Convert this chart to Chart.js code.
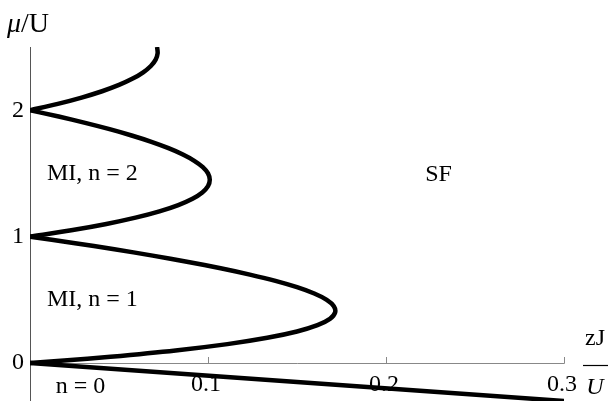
<!DOCTYPE html>
<html><head><meta charset="utf-8">
<script src="https://cdn.jsdelivr.net/npm/chart.js@4.4.1/dist/chart.umd.min.js"></script>
<style>html,body{margin:0;padding:0;background:#fff}#wrap{width:609px;height:401px;position:relative}</style>
</head><body><div id="wrap"><canvas id="c" width="609" height="401"></canvas></div>
<script>
// Phase boundary of the Mott lobes: chemical potential mu/U and hopping zJ/U
const lobe0Mu = [0, -0.3];
const lobe0J  = [0, 0.3];
const lobe1Mu = [0, 0.02, 0.05, 0.1, 0.15, 0.2, 0.25, 0.3, 0.35, 0.4, 0.45, 0.5, 0.55, 0.6, 0.65, 0.7, 0.75, 0.8, 0.85, 0.9, 0.95, 1.0];
const lobe1J  = [0, 0.0192, 0.0452, 0.0818, 0.1109, 0.1333, 0.15, 0.1615, 0.1685, 0.1714, 0.1707, 0.1667, 0.1597, 0.15, 0.1379, 0.1235, 0.1071, 0.0889, 0.0689, 0.0474, 0.0244, 0];
const lobe2Mu = [1.0, 1.05, 1.1, 1.15, 1.2, 1.25, 1.3, 1.35, 1.4, 1.45, 1.5, 1.55, 1.6, 1.65, 1.7, 1.75, 1.8, 1.85, 1.9, 1.95, 2.0];
const lobe2J  = [0, 0.0232, 0.0429, 0.0593, 0.0727, 0.0833, 0.0913, 0.0968, 0.1, 0.101, 0.1, 0.0971, 0.0923, 0.0859, 0.0778, 0.0682, 0.0571, 0.0447, 0.031, 0.0161, 0];
const lobe3Mu = [2.0, 2.05, 2.1, 2.15, 2.2, 2.25, 2.3, 2.35, 2.4, 2.45, 2.5];
const lobe3J  = [0, 0.0156, 0.029, 0.0405, 0.05, 0.0577, 0.0636, 0.0679, 0.0706, 0.0717, 0.0714];

const xTicks = [0.1, 0.2, 0.3];
const xTickLabels = ['0.1', '0.2', '0.3'];
const yTicks = [0, 1, 2];
const yTickLabels = ['0', '1', '2'];

// region labels [text, zJ/U (left edge), mu/U]
const regionLabels = [
  ['MI, n = 2', 0.0095, 1.5],
  ['MI, n = 1', 0.0095, 0.5],
  ['SF', 0.222, 1.49],
  ['n = 0', 0.0145, -0.19]
];

function pts(xs, ys) { return xs.map((x, i) => ({x: x, y: ys[i]})); }
function lineDs(xs, ys) {
  return {data: pts(xs, ys), showLine: true, borderColor: '#000', borderWidth: 4.5,
          pointRadius: 0, tension: 0.3, fill: false, borderJoinStyle: 'round', borderCapStyle: 'butt'};
}

const SERIF = '"Liberation Serif", "Times New Roman", serif';

const axesPlugin = {
  id: 'axesPlugin',
  beforeDatasetsDraw(chart) {
    const ctx = chart.ctx, xs = chart.scales.x, ys = chart.scales.y;
    const x0 = xs.getPixelForValue(0), y0 = ys.getPixelForValue(0);
    ctx.save();
    ctx.strokeStyle = '#555'; ctx.lineWidth = 1;
    ctx.beginPath();
    ctx.moveTo(Math.round(x0) + 0.5, chart.chartArea.top);
    ctx.lineTo(Math.round(x0) + 0.5, chart.chartArea.bottom + 2);
    ctx.stroke();
    ctx.strokeStyle = '#888';
    ctx.beginPath();
    ctx.moveTo(x0, Math.round(y0) + 0.5);
    ctx.lineTo(xs.getPixelForValue(xTicks[xTicks.length - 1]) + 0.5, Math.round(y0) + 0.5);
    ctx.stroke();
    xTicks.forEach(t => {
      const px = Math.round(xs.getPixelForValue(t)) + 0.5;
      ctx.beginPath(); ctx.moveTo(px, Math.round(y0) + 0.5); ctx.lineTo(px, Math.round(y0) - 6); ctx.stroke();
    });
    ctx.restore();
  },
  afterDraw(chart) {
    const ctx = chart.ctx, xs = chart.scales.x, ys = chart.scales.y;
    const x0 = xs.getPixelForValue(0), y0 = ys.getPixelForValue(0);
    ctx.save();
    ctx.fillStyle = '#000';
    ctx.font = '24px ' + SERIF;
    ctx.textBaseline = 'middle';
    ctx.textAlign = 'center';
    xTicks.forEach((t, i) => ctx.fillText(xTickLabels[i], xs.getPixelForValue(t) - 2, y0 + 22));
    ctx.textAlign = 'right';
    yTicks.forEach((t, i) => ctx.fillText(yTickLabels[i], x0 - 6, ys.getPixelForValue(t)));
    ctx.textAlign = 'left';
    regionLabels.forEach(l => ctx.fillText(l[0], xs.getPixelForValue(l[1]), ys.getPixelForValue(l[2])));
    // y axis title mu/U
    ctx.textBaseline = 'alphabetic';
    ctx.font = 'italic 28px ' + SERIF;
    ctx.fillText('\u03BC', 7, 32);
    const w = ctx.measureText('\u03BC').width;
    ctx.font = '28px ' + SERIF;
    ctx.fillText('/U', 7 + w, 32);
    // x axis title zJ / U
    const cx = 595;
    ctx.textAlign = 'center';
    ctx.font = '24px ' + SERIF;
    ctx.fillText('zJ', cx, 345);
    ctx.strokeStyle = '#000'; ctx.lineWidth = 1.2;
    ctx.beginPath(); ctx.moveTo(583, 365.5); ctx.lineTo(608, 365.5); ctx.stroke();
    ctx.font = 'italic 24px ' + SERIF;
    ctx.fillText('U', cx, 394);
    ctx.restore();
  }
};

new Chart(document.getElementById('c'), {
  type: 'scatter',
  data: { datasets: [
    lineDs(lobe0J, lobe0Mu),
    lineDs(lobe1J, lobe1Mu),
    lineDs(lobe2J, lobe2Mu),
    lineDs(lobe3J, lobe3Mu)
  ]},
  options: {
    responsive: false, animation: false, devicePixelRatio: 1,
    layout: { padding: { left: 30, right: 45, top: 47, bottom: 0 } },
    plugins: { legend: { display: false }, tooltip: { enabled: false } },
    scales: {
      x: { type: 'linear', min: 0, max: 0.3, display: false },
      y: { type: 'linear', min: -0.3, max: 2.5, display: false }
    }
  },
  plugins: [axesPlugin]
});
</script>
</body></html>
